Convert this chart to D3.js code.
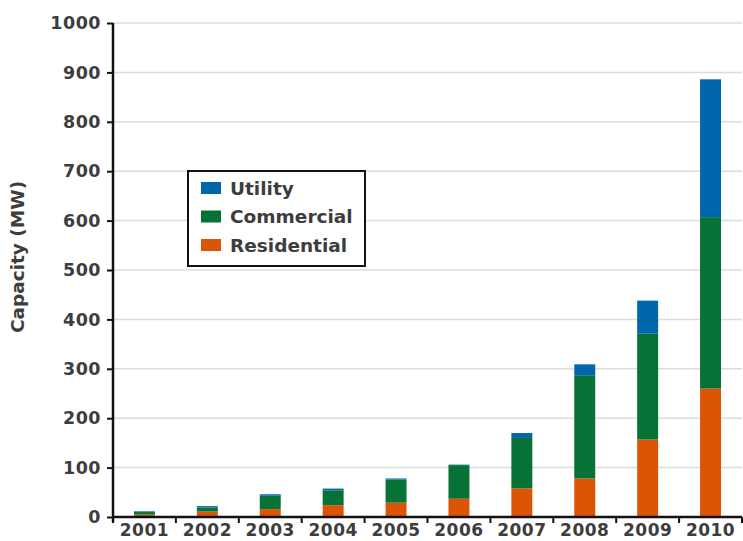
<!DOCTYPE html>
<html><head><meta charset="utf-8">
<script src="https://cdn.jsdelivr.net/npm/d3@7/dist/d3.min.js"></script>
<style>body{margin:0;background:#fff}svg{display:block}</style>
</head><body>
<script>
const years = ["2001","2002","2003","2004","2005","2006","2007","2008","2009","2010"];
const residential = [5, 11, 16, 24, 29, 37, 58, 78, 157, 260];
const commercial  = [5, 8, 27, 30, 47, 68, 102, 209, 214, 347];
const utility     = [1.5, 3, 3, 3.5, 2, 1, 10, 22, 67, 279];
const seriesNames = ["Residential","Commercial","Utility"];
const colors = {Residential:"#dc5506", Commercial:"#067236", Utility:"#0067ac"};
const yTicks = [0,100,200,300,400,500,600,700,800,900,1000];

const W=743,H=541;
const svg=d3.select("body").append("svg").attr("width",W).attr("height",H);
const x0=113,x1=742,yb=517,yt=23;
const x=d3.scaleBand().domain(years).range([x0,x1]).paddingInner(2/3).paddingOuter(1/3);
const y=d3.scaleLinear().domain([0,1000]).range([yb,yt]);
const textCol="#3d3d3d";
const font="DejaVu Sans";

// grid
svg.append("g").selectAll("line").data(yTicks.slice(1)).join("line")
  .attr("x1",x0).attr("x2",x1).attr("y1",d=>y(d)).attr("y2",d=>y(d))
  .attr("stroke","#dcdcdc").attr("stroke-width",1.5);

// stacked
const table=years.map((yr,i)=>({year:yr,Residential:residential[i],Commercial:commercial[i],Utility:utility[i]}));
const stack=d3.stack().keys(seriesNames)(table);
svg.append("g").selectAll("g").data(stack).join("g").attr("fill",d=>colors[d.key])
  .selectAll("rect").data(d=>d).join("rect")
  .attr("x",d=>x(d.data.year)).attr("width",x.bandwidth())
  .attr("y",d=>y(d[1])).attr("height",d=>y(d[0])-y(d[1]));

// y axis
const yAxis=d3.axisLeft(y).tickValues(yTicks).tickFormat(d3.format("d")).tickSize(6).tickPadding(6);
const gy=svg.append("g").attr("transform",`translate(${x0},0)`).call(yAxis);
gy.select(".domain").remove();
gy.selectAll(".tick line").attr("stroke","#111").attr("stroke-width",2);
gy.selectAll(".tick text").attr("font-family",font).attr("font-weight","bold").attr("font-size",17.5).attr("fill",textCol).attr("letter-spacing",0.5);
svg.append("line").attr("x1",x0).attr("x2",x0).attr("y1",yt).attr("y2",yb+5).attr("stroke","#111").attr("stroke-width",2.5);

// x axis
svg.append("line").attr("x1",x0).attr("x2",x1).attr("y1",yb).attr("y2",yb).attr("stroke","#111").attr("stroke-width",2.5);
const step=x.step();
const bounds=d3.range(years.length+1).map(i=>x0+i*step);
svg.append("g").selectAll("line").data(bounds).join("line")
  .attr("x1",d=>d).attr("x2",d=>d).attr("y1",yb).attr("y2",yb+6).attr("stroke","#111").attr("stroke-width",2);
svg.append("g").selectAll("text").data(years).join("text")
  .attr("x",d=>x(d)+x.bandwidth()/2).attr("y",536).attr("text-anchor","middle")
  .attr("font-family",font).attr("font-weight","bold").attr("font-size",17).attr("fill",textCol).attr("letter-spacing",0.5)
  .text(d=>d);

// y title
svg.append("text").attr("transform","translate(24,257) rotate(-90)").attr("text-anchor","middle")
  .attr("font-family",font).attr("font-weight","bold").attr("font-size",18.5).attr("fill",textCol)
  .text("Capacity (MW)");

// legend
const lg=svg.append("g");
lg.append("rect").attr("x",188).attr("y",171).attr("width",177).attr("height",95)
  .attr("fill","#fff").attr("stroke","#111").attr("stroke-width",2);
const legendItems=["Utility","Commercial","Residential"];
legendItems.forEach((k,i)=>{
  const cy=188+i*28.5;
  lg.append("rect").attr("x",201).attr("y",cy-6).attr("width",20).attr("height",12).attr("fill",colors[k]);
  lg.append("text").attr("x",230).attr("y",cy+6.5).attr("font-family",font).attr("font-weight","bold")
    .attr("font-size",18.5).attr("fill",textCol).text(k);
});
</script>
</body></html>
